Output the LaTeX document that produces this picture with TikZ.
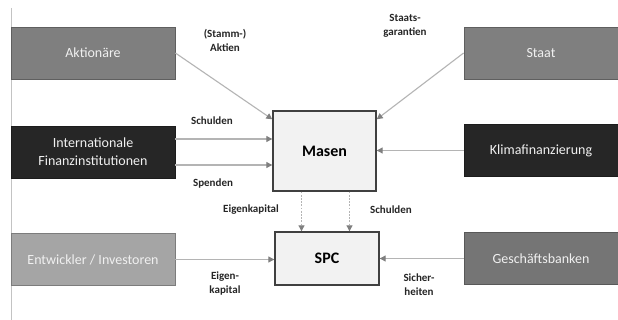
\documentclass[tikz,border=0pt]{standalone}
\usepackage{fontspec}
\setmainfont{Carlito}
\usetikzlibrary{arrows.meta}
\definecolor{midgray}{HTML}{7F7F7F}
\definecolor{darkbox}{HTML}{262626}
\definecolor{lightbox}{HTML}{A5A5A5}
\definecolor{fillbox}{HTML}{F2F2F2}
\definecolor{linegray}{HTML}{B4B4B4}
\definecolor{tipgray}{HTML}{7F7F7F}
\begin{document}
\begin{tikzpicture}[x=1pt,y=-1pt,
  srcbox/.style={draw=#1!75!black, fill=#1, line width=0.8pt, minimum height=52pt,
    text=white!88!gray, font=\fontsize{14}{18}\selectfont, align=center, inner sep=2pt},
  hubbox/.style={draw=black!75, fill=fillbox, line width=1.4pt,
    font=\bfseries\fontsize{16}{19}\selectfont, text=black},
  arr/.style={draw=linegray, line width=1.1pt, -{Triangle[length=6pt,width=6pt,color=tipgray]}},
  darr/.style={arr, dash pattern=on 1.8pt off 1.4pt},
  lbl/.style={font=\bfseries\fontsize{11}{14}\selectfont, align=center, text=black!85, inner sep=0pt}]
\useasboundingbox (0,0) rectangle (618,320);
\fill[white] (0,0) rectangle (618,320);
\coordinate (lt) at (11,8);
\coordinate (lb) at (11,320);
\draw[linegray!80, line width=0.8pt] (lt) -- (lb);
% left boxes
\node[srcbox=midgray, minimum width=164pt] (akt) at (93,53) {Aktionäre};
\node[srcbox=darkbox, minimum width=164pt] (int) at (93,152) {Internationale\\Finanzinstitutionen};
\node[srcbox=lightbox, minimum width=164pt] (ent) at (93,259.5) {Entwickler / Investoren};
% right boxes
\node[srcbox=midgray, minimum width=154pt] (sta) at (541,53) {Staat};
\node[srcbox=darkbox, minimum width=154pt] (kli) at (541,150.5) {Klimafinanzierung};
\node[srcbox=midgray!92!black, minimum width=154pt] (ges) at (541,258.5) {Geschäftsbanken};
% hubs
\node[hubbox, minimum width=103pt, minimum height=80pt] (mas) at (324.5,151) {Masen};
\node[hubbox, minimum width=104pt, minimum height=53pt] (spc) at (327,258.5) {SPC};
% connectors
\draw[arr] (akt.east) -- ([yshift=-9pt]mas.north west);
\draw[arr] (sta.west) -- ([yshift=-9pt]mas.north east);
\draw[arr] ([yshift=12pt]mas.west -| int.east) -- ([yshift=12pt]mas.west);
\draw[arr] ([yshift=-14pt]mas.west -| int.east) -- ([yshift=-14pt]mas.west);
\draw[arr] (kli.west) -- (kli.west -| mas.east);
\draw[darr] ([xshift=-23pt]mas.south) -- ([xshift=-23pt]mas.south |- spc.north);
\draw[darr] ([xshift=25pt]mas.south) -- ([xshift=25pt]mas.south |- spc.north);
\draw[arr] (ent.east) -- (ent.east -| spc.west);
\draw[arr] (ges.west) -- (ges.west -| spc.east);
% labels
\node[lbl] (l1) at (225,40) {(Stamm-)\\Aktien};
\node[lbl] (l2) at (405,26) {Staats-\\garantien};
\node[lbl] (l3) at (212,121) {Schulden};
\node[lbl] (l4) at (213,184) {Spenden};
\node[lbl] (l5) at (251,210) {Eigenkapital};
\node[lbl] (l6) at (391,210) {Schulden};
\node[lbl] (l7) at (225,284) {Eigen-\\kapital};
\node[lbl] (l8) at (419,285) {Sicher-\\heiten};
\end{tikzpicture}
\end{document}
